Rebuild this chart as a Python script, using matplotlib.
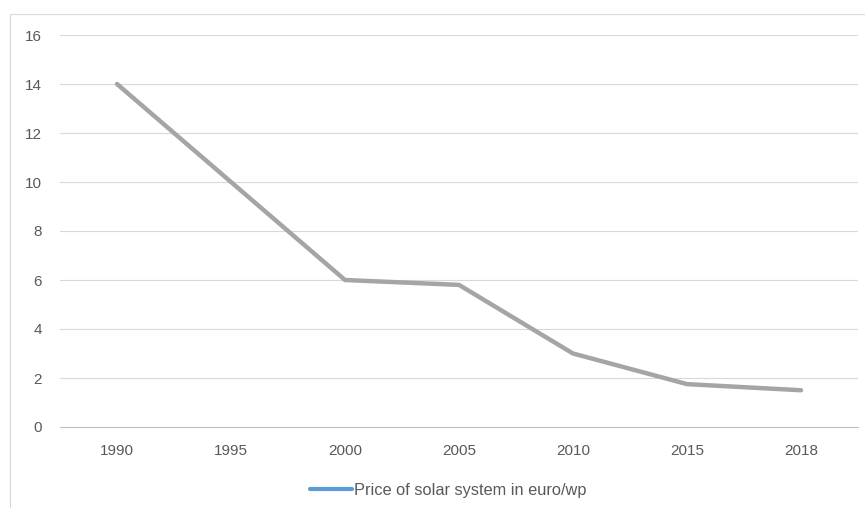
import matplotlib
matplotlib.use("Agg")
import matplotlib.pyplot as plt
from matplotlib.lines import Line2D
from matplotlib.patches import Rectangle

years = ["1990", "1995", "2000", "2005", "2010", "2015", "2018"]
prices = [14, 10, 6, 5.8, 3, 1.75, 1.5]
yticks = [0, 2, 4, 6, 8, 10, 12, 14, 16]
series_name = "Price of solar system in euro/wp"

plt.rcParams['font.family'] = ['Liberation Sans', 'DejaVu Sans']

W, H = 865, 508
fig = plt.figure(figsize=(W / 100, H / 100), dpi=100)
fig.patches.append(Rectangle((10 / W, -0.01), 1.0, (H - 14) / H + 0.01,
                             transform=fig.transFigure, fill=False,
                             edgecolor="#D9D9D9", linewidth=0.8))

ax = fig.add_axes([60 / W, 81 / H, 798 / W, 392 / H])
x = list(range(len(years)))
ax.plot(x, prices, color="#A5A5A5", linewidth=3.2, solid_capstyle="round",
        solid_joinstyle="round", zorder=3)

ax.set_xlim(-0.5, len(years) - 0.5)
ax.set_ylim(0, 16)
ax.set_xticks(x)
ax.set_xticklabels(years)
ax.set_yticks(yticks)
ax.set_yticklabels([str(v) for v in yticks])
ax.tick_params(axis="both", length=0, labelsize=11, colors="#595959")
ax.tick_params(axis="x", pad=12)
ax.tick_params(axis="y", pad=13)
ax.grid(axis="y", color="#D9D9D9", linewidth=0.8)
ax.set_axisbelow(True)
for s in ["top", "right", "left"]:
    ax.spines[s].set_visible(False)
ax.spines["bottom"].set_color("#BFBFBF")
ax.spines["bottom"].set_linewidth(0.8)

handle = Line2D([0], [0], color="#5B9BD5", linewidth=3.0, solid_capstyle="round")
fig.legend([handle], [series_name], loc="center", bbox_to_anchor=(448 / W, 1 - 490 / H),
           frameon=False, fontsize=11.8, labelcolor="#595959", handlelength=2.6,
           handletextpad=0.1)

fig.savefig("out.png", dpi=100)
